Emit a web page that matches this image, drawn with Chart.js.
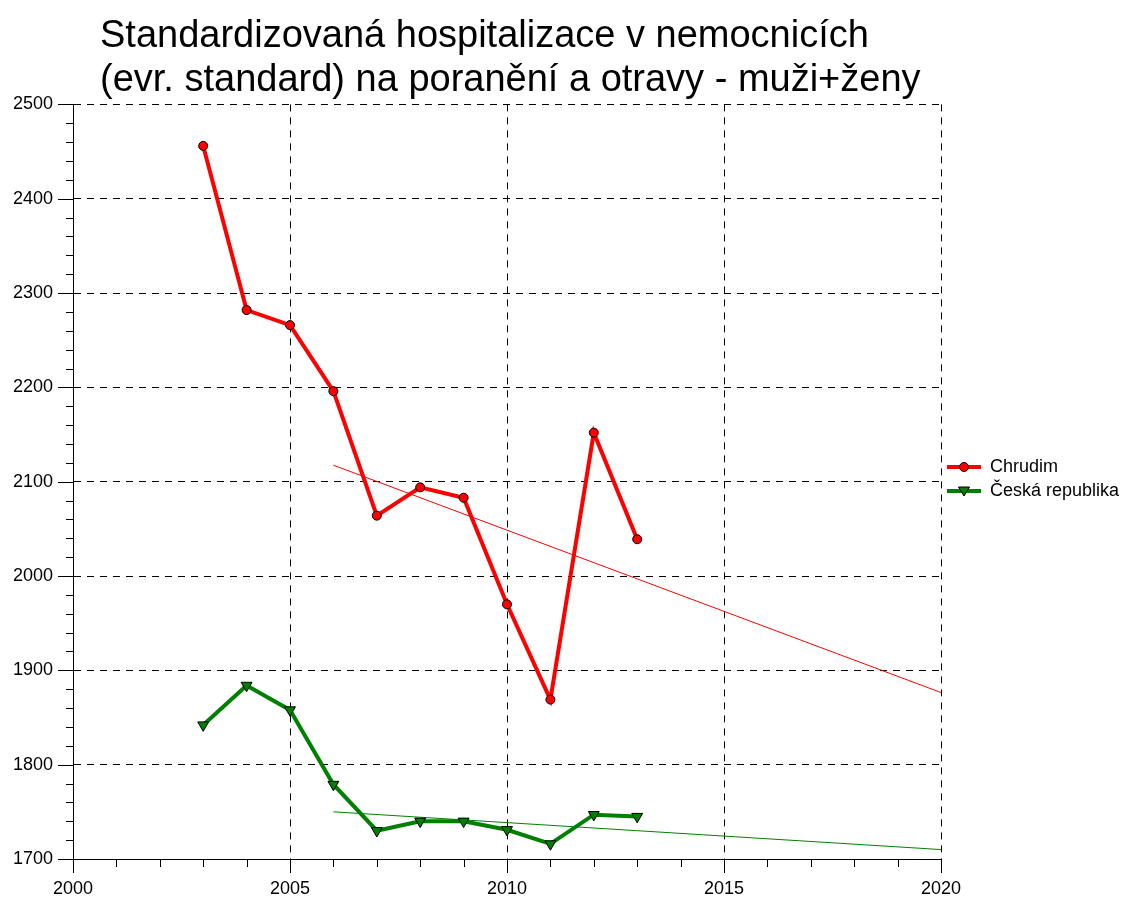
<!DOCTYPE html>
<html>
<head>
<meta charset="utf-8">
<script src="https://cdn.jsdelivr.net/npm/chart.js@4.4.1/dist/chart.umd.min.js"></script>
<style>
html,body{margin:0;padding:0;background:#fff;}
#wrap{width:1126px;height:898px;}
</style>
</head>
<body>
<div id="wrap"><canvas id="c" width="1126" height="898"></canvas></div>
<script>
// ---- data ----
const years = [2003, 2004, 2005, 2006, 2007, 2008, 2009, 2010, 2011, 2012, 2013];
const chrudim = [2456, 2282, 2266, 2196, 2064, 2094, 2083, 1970, 1869, 2152, 2039];
const ceskaRepublika = [1842, 1884, 1858, 1779, 1730, 1740, 1740, 1731, 1716, 1747, 1745];
const trendYears = [2006, 2020];
const chrudimTrend = [2117.5, 1876.5];
const crTrend = [1750, 1710];
const seriesNames = ['Chrudim', 'Česká republika'];
const titleLines = ['Standardizovaná hospitalizace v nemocnicích', '(evr. standard) na poranění a otravy - muži+ženy'];
const xTicks = [2000, 2005, 2010, 2015, 2020];
const yTicks = [1700, 1800, 1900, 2000, 2100, 2200, 2300, 2400, 2500];

const RED = '#ff0000';
const GREEN = '#008000';
const FONT = '"Liberation Sans", Arial, Helvetica, sans-serif';
Chart.defaults.font.family = FONT;
Chart.defaults.color = '#000';

function pts(xs, ys) { return xs.map((x, i) => ({x: x, y: ys[i]})); }

function legendIcon(color, kind) {
  const c = document.createElement('canvas');
  c.width = 34; c.height = 14;
  const g = c.getContext('2d');
  g.strokeStyle = color; g.lineWidth = 4;
  g.beginPath(); g.moveTo(0, 7); g.lineTo(34, 7); g.stroke();
  g.fillStyle = color; g.strokeStyle = '#000'; g.lineWidth = 1;
  g.beginPath();
  if (kind === 'circle') {
    g.arc(17, 7, 4.5, 0, Math.PI * 2);
  } else {
    g.moveTo(11.5, 3); g.lineTo(22.5, 3); g.lineTo(17, 12); g.closePath();
  }
  g.fill(); g.stroke();
  return c;
}
const icons = [legendIcon(RED, 'circle'), legendIcon(GREEN, 'tri')];

const minorTicks = {
  id: 'minorTicks',
  beforeDatasetsDraw(chart) {
    const ctx = chart.ctx, xs = chart.scales.x, ys = chart.scales.y;
    const ca = chart.chartArea;
    ctx.save();
    ctx.strokeStyle = '#000';
    ctx.lineWidth = 1;
    ctx.beginPath();
    for (let v = xs.min; v <= xs.max; v += 1) {
      const px = Math.round(xs.getPixelForValue(v)) + 0.5;
      const len = (v % 5 === 0) ? 14 : 8;
      ctx.moveTo(px, ca.bottom); ctx.lineTo(px, ca.bottom + len);
    }
    for (let v = ys.min; v <= ys.max; v += 20) {
      const py = Math.round(ys.getPixelForValue(v)) + 0.5;
      const len = (v % 100 === 0) ? 15 : 7;
      ctx.moveTo(ca.left - len, py); ctx.lineTo(ca.left, py);
    }
    ctx.stroke();
    ctx.restore();
  }
};

const adjustBoxes = {
  id: 'adjustBoxes',
  afterLayout(chart) {
    const t = chart.titleBlock;
    if (t) { t.left = 100; t.right = 1126; }
    const L = chart.legend;
    if (L) { L.top += 30; L.bottom += 30; }
  }
};

new Chart(document.getElementById('c'), {
  type: 'line',
  data: {
    datasets: [
      {
        label: seriesNames[0], data: pts(years, chrudim),
        borderColor: RED, backgroundColor: RED, borderWidth: 4,
        pointStyle: 'circle', pointRadius: 4.5, pointBackgroundColor: RED,
        pointBorderColor: '#000', pointBorderWidth: 1, tension: 0
      },
      {
        label: seriesNames[1], data: pts(years, ceskaRepublika),
        borderColor: GREEN, backgroundColor: GREEN, borderWidth: 4,
        pointStyle: 'triangle', rotation: 180, pointRadius: 6.3, pointBackgroundColor: GREEN,
        pointBorderColor: '#000', pointBorderWidth: 1, tension: 0
      },
      {
        label: 'trend1', data: pts(trendYears, chrudimTrend),
        borderColor: RED, borderWidth: 1, pointRadius: 0, tension: 0
      },
      {
        label: 'trend2', data: pts(trendYears, crTrend),
        borderColor: GREEN, borderWidth: 1, pointRadius: 0, tension: 0
      }
    ]
  },
  options: {
    responsive: false,
    animation: false,
    devicePixelRatio: 1,
    layout: {padding: {left: 0, right: 1, top: 0, bottom: 0}},
    scales: {
      x: {
        type: 'linear', min: 2000, max: 2020,
        afterBuildTicks(s) { s.ticks = xTicks.map(v => ({value: v})); },
        afterFit(s) { s.height = 39; },
        ticks: {font: {size: 18}, color: '#000', padding: 19, maxRotation: 0, autoSkip: false,
                callback: v => String(v)},
        grid: {color: '#000', lineWidth: 1, drawTicks: false},
        border: {display: true, color: '#000', width: 1, dash: [7, 6]}
      },
      y: {
        type: 'linear', min: 1700, max: 2500,
        afterBuildTicks(s) { s.ticks = yTicks.map(v => ({value: v})); },
        afterFit(s) { s.width = 73; },
        ticks: {font: {size: 18}, color: '#000', padding: 20, autoSkip: false,
                callback: v => String(v)},
        grid: {color: '#000', lineWidth: 1, drawTicks: false},
        border: {display: true, color: '#000', width: 1, dash: [7, 6]}
      }
    },
    plugins: {
      title: {
        display: true, text: titleLines, align: 'start', color: '#000',
        font: {size: 38, weight: 'normal', lineHeight: 1.15},
        padding: {top: 15, bottom: 2}
      },
      legend: {
        display: true, position: 'right', align: 'center', maxWidth: 184,
        labels: {
          usePointStyle: true, pointStyleWidth: 34, padding: 6,
          font: {size: 18}, color: '#000',
          generateLabels(chart) {
            return [0, 1].map(i => ({
              text: seriesNames[i], pointStyle: icons[i], datasetIndex: i,
              fillStyle: 'transparent', strokeStyle: 'transparent', lineWidth: 0, hidden: false
            }));
          }
        }
      },
      tooltip: {enabled: false}
    }
  },
  plugins: [minorTicks, adjustBoxes]
});
</script>
</body>
</html>
